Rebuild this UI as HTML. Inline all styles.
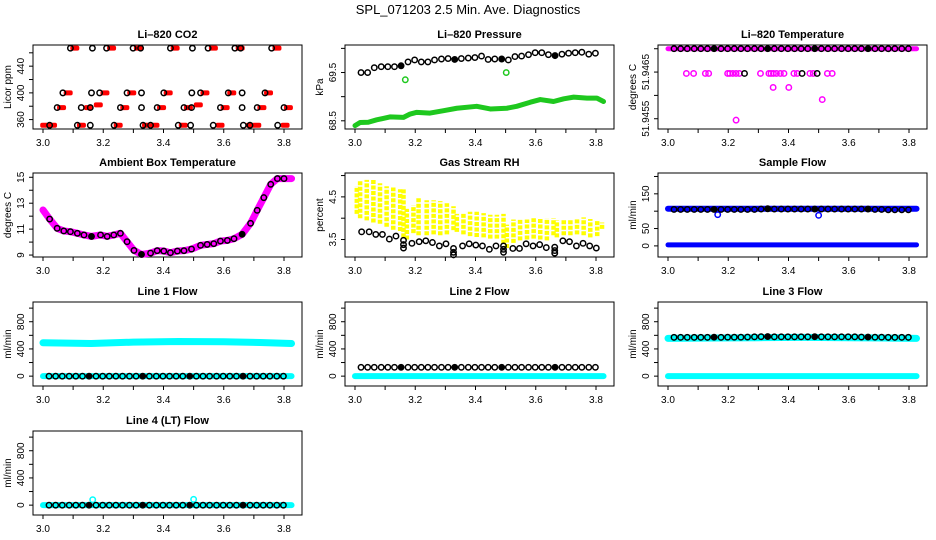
<!DOCTYPE html>
<html><head><meta charset="utf-8"><style>
html,body{margin:0;padding:0;background:#fff}
svg{display:block;font-family:"Liberation Sans",Arial,sans-serif}
</style></head><body>
<svg id="chart" width="936" height="540" viewBox="0 0 936 540" xmlns="http://www.w3.org/2000/svg">
<rect width="936" height="540" fill="#fff"/>
<text x="468" y="14" text-anchor="middle" font-size="13">SPL_071203  2.5 Min. Ave. Diagnostics</text>
</svg>
<script>
// ---------- data ----------
const xTicks = [3.0,3.1,3.2,3.3,3.4,3.5,3.6,3.7,3.8];
const xTickLabels = ["3.0","","3.2","","3.4","","3.6","","3.8"];
const BX = [3.020,3.042,3.064,3.087,3.109,3.131,3.153,3.176,3.198,3.220,3.242,3.264,3.287,3.309,3.331,3.353,3.376,3.398,3.420,3.442,3.464,3.487,3.509,3.531,3.553,3.576,3.598,3.620,3.642,3.664,3.687,3.709,3.731,3.753,3.776,3.798];
const filledIdx = [6,14,21,29];

// CO2
const co2RedX = [3.094,3.216,3.305,3.427,3.554,3.643,3.765, 3.072,3.194,3.283,3.404,3.526,3.615,3.737, 3.05,3.139,3.172,3.26,3.382,3.471,3.504,3.593,3.715,3.803, 2.994,3.02,3.116,3.238,3.332,3.36,3.454,3.576,3.676,3.698,3.792];
const co2RedY = [467,467,467,467,467,467,467, 400,400,400,400,400,400,400, 378,378,382,378,378,378,382,378,378,378, 351.5,351.5,351.5,351.5,351.5,351.5,351.5,351.5,351.5,351.5,351.5];
const co2BlackX = [3.091,3.164,3.211,3.299,3.324,3.423,3.496,3.548,3.637,3.656,3.759, 3.066,3.161,3.188,3.279,3.327,3.401,3.494,3.523,3.615,3.661,3.737, 3.047,3.127,3.157,3.257,3.327,3.379,3.468,3.493,3.589,3.661,3.711,3.8, 3.022,3.114,3.157,3.236,3.332,3.357,3.449,3.49,3.565,3.665,3.687,3.779];
const co2BlackY = [467,467,467,467,467,467,467,467,467,467,467, 400,400,400,400,400,400,400,400,400,400,400, 378,378,378,378,378,378,378,378,378,378,378,378, 351.5,351.5,351.5,351.5,351.5,351.5,351.5,351.5,351.5,351.5,351.5,351.5];

// Pressure
const presBlack = [69.5,69.5,69.6,69.62,69.62,69.62,69.64,69.72,69.76,69.72,69.72,69.76,69.78,69.79,69.77,69.79,69.8,69.81,69.84,69.77,69.78,69.78,69.76,69.83,69.84,69.87,69.91,69.91,69.87,69.85,69.88,69.9,69.91,69.92,69.88,69.9];
const presGreenX = [3.0,3.017,3.044,3.072,3.116,3.161,3.183,3.205,3.249,3.294,3.338,3.404,3.449,3.504,3.537,3.582,3.615,3.659,3.693,3.726,3.77,3.803,3.825];
const presGreenY = [68.4,68.465,68.47,68.52,68.58,68.57,68.64,68.675,68.66,68.71,68.76,68.8,68.745,68.76,68.8,68.885,68.94,68.9,68.955,68.99,68.97,68.97,68.9];
const presOutX = [3.167,3.502];
const presOutY = [69.35,69.5];

// Li-820 temperature
const ltMagX = [3.061,3.085,3.124,3.135,3.198,3.205,3.215,3.226,3.237,3.307,3.335,3.342,3.35,3.36,3.373,3.385,3.418,3.429,3.471,3.482,3.529,3.545];
const ltMagY = [51.94647,51.94647,51.94647,51.94647,51.94647,51.94647,51.94647,51.94647,51.94647,51.94647,51.94647,51.94647,51.94647,51.94647,51.94647,51.94647,51.94647,51.94647,51.94647,51.94647,51.94647,51.94647];
const ltLowX = [3.349,3.401,3.512,3.226];
const ltLowY = [51.94617,51.94617,51.94591,51.94547];
const ltBlackMidX = [3.254,3.445,3.495];

// Ambient temperature
const ambX = [3.022,3.047,3.069,3.091,3.114,3.136,3.161,3.191,3.213,3.235,3.257,3.279,3.302,3.327,3.357,3.379,3.401,3.423,3.446,3.468,3.493,3.523,3.545,3.567,3.589,3.612,3.634,3.661,3.689,3.711,3.733,3.756,3.778,3.8];
const ambY = [11.78,11.06,10.86,10.8,10.68,10.55,10.44,10.55,10.44,10.55,10.68,10.03,9.36,9.05,9.15,9.34,9.31,9.18,9.31,9.34,9.46,9.75,9.82,9.88,10.08,10.13,10.26,10.6,11.45,12.45,13.43,14.46,14.9,14.9];
const ambFilled = [6,13,27];

// Gas stream RH (yellow ranges)
const rhX  = [3.006,3.017,3.039,3.061,3.083,3.105,3.127,3.15,3.161, 3.172,3.194,3.211,3.238,3.261,3.283,3.305,3.327, 3.338,3.36,3.382,3.404,3.427,3.449,3.471,3.493, 3.504,3.526,3.548,3.571,3.593,3.615,3.637,3.659, 3.67,3.693,3.715,3.737,3.759,3.781,3.804,3.82];
const rhHi = [4.75,4.87,4.9,4.9,4.82,4.75,4.72,4.68,4.68, 4.22,4.3,4.5,4.42,4.42,4.4,4.35,4.28, 4.1,4.12,4.15,4.15,4.12,4.08,4.08,4.1, 3.85,3.97,3.97,3.97,4.0,4.0,4.0,4.0, 3.95,3.97,3.98,4.0,4.02,3.98,3.95,3.9];
const rhLo = [4.1,4.0,3.95,3.9,3.87,3.8,3.73,3.7,3.55, 3.5,3.65,3.6,3.6,3.62,3.6,3.62,3.72, 3.68,3.62,3.58,3.56,3.55,3.52,3.52,3.4, 3.3,3.42,3.48,3.5,3.52,3.5,3.48,3.6, 3.55,3.6,3.6,3.62,3.6,3.55,3.58,3.75];
const rhBlackX = [3.022,3.047,3.069,3.091,3.114,3.136,3.161,3.161,3.161,3.189,3.213,3.235,3.257,3.28,3.302,3.327,3.327,3.327,3.357,3.379,3.401,3.423,3.446,3.468,3.493,3.493,3.493,3.524,3.546,3.568,3.591,3.613,3.635,3.663,3.663,3.663,3.69,3.712,3.735,3.757,3.779,3.801];
const rhBlackY = [3.68,3.68,3.62,3.62,3.51,3.58,3.48,3.38,3.3,3.41,3.45,3.47,3.43,3.35,3.4,3.29,3.2,3.14,3.35,3.4,3.37,3.35,3.27,3.35,3.35,3.27,3.2,3.29,3.29,3.4,3.35,3.38,3.31,3.32,3.24,3.18,3.47,3.45,3.35,3.41,3.35,3.3];

// Flows
const sampleBlack = [105,105,105,105,105,105,105,105,105,105,105,105,105,106,107,106,106,106,106,106,106,106,106,106,106,106,106,106,106,106,105,105,104,104,104,104];
const sampleOutX = [3.165,3.5];
const sampleOutY = [90,88];
const line1Band = [490,480,500,510,505,495,480];
const bandX = [3.0,3.16,3.3,3.45,3.6,3.72,3.825];
const line1Black = [0,0,0,0,0,0,0,0,0,0,0,0,0,0,0,0,0,0,0,0,0,0,0,0,0,0,0,0,0,0,0,0,0,0,0,0];
const line2Black = [130,130,130,130,130,130,130,130,130,130,130,130,130,130,130,130,130,130,130,130,130,130,130,130,130,130,130,130,130,130,130,130,130,130,130,130];
const line3Band = [555,560,565,570,565,560,555];
const line3Black = [570,570,570,570,570,570,572,570,572,572,572,575,578,580,582,578,578,578,578,578,578,580,578,578,578,578,578,578,575,575,572,572,570,570,570,570];
const line4Black = [0,0,0,0,0,0,0,0,0,0,0,0,0,0,0,0,0,0,0,0,0,0,0,0,0,0,0,0,0,0,0,0,0,0,0,0];
const line4OutX = [3.165,3.5];
const line4OutY = [80,85];

// ---------- drawing ----------
const svg = document.getElementById('chart');
const NS = 'http://www.w3.org/2000/svg';
function mk(tag, attrs, parent){ const e=document.createElementNS(NS,tag); for(const k in attrs) e.setAttribute(k,attrs[k]); (parent||svg).appendChild(e); return e; }

const W = 269, H = 84;
function panel(name, title, L, T, ylo, yhi, yTicks, yLabels, ytitle){
  const g = mk('g',{});
  
  
  const xs = v => L + 10 + (v - 3.0) * 301.25;
  const ys = v => T + H - (v - ylo) / (yhi - ylo) * H;
  const box = mk('rect',{x:L,y:T,width:W,height:H,fill:'none',stroke:'#000','stroke-width':1},g);
  
  
  const t = mk('text',{x:L+W/2,y:T-7,'text-anchor':'middle','font-size':11,'font-weight':'bold'},g);
  t.textContent = title;
  
  
  const xa = mk('g',{},g);
  
  
  mk('line',{x1:xs(xTicks[0]),x2:xs(xTicks[xTicks.length-1]),y1:T+H,y2:T+H,stroke:'#000'},xa);
  xTicks.forEach((v,i)=>{
    mk('line',{x1:xs(v),x2:xs(v),y1:T+H,y2:T+H+4,stroke:'#000'},xa);
    if(xTickLabels[i]){ const tx=mk('text',{x:xs(v),y:T+H+17,'text-anchor':'middle','font-size':10},xa); tx.textContent=xTickLabels[i];
      
       }
  });
  const ya = mk('g',{},g);
  
  
  mk('line',{x1:L,x2:L,y1:ys(yTicks[0]),y2:ys(yTicks[yTicks.length-1]),stroke:'#000'},ya);
  yTicks.forEach((v,i)=>{
    mk('line',{x1:L-4,x2:L,y1:ys(v),y2:ys(v),stroke:'#000'},ya);
    if(yLabels[i]){ const ty=mk('text',{x:L-9,y:ys(v),'text-anchor':'middle','font-size':10,transform:`rotate(-90 ${L-9} ${ys(v)})`},ya); ty.textContent=yLabels[i];
      
       }
  });
  const yt = mk('text',{x:L-22,y:T+H/2,'text-anchor':'middle','font-size':10,transform:`rotate(-90 ${L-22} ${T+H/2})`},g);
  yt.textContent = ytitle;
  
  
  const clip = mk('g',{},g);
  return {g:clip, xs, ys};
}
function circ(p, x, y, col, filled, name){
  const c = mk('circle',{cx:p.xs(x),cy:p.ys(y),r:2.7,fill:filled?col:'none',stroke:col,'stroke-width':1.5},p.g);
  
  
}
function band(p, xArr, yArr, col, w, name){
  const pts = xArr.map((x,i)=>p.xs(x)+','+p.ys(yArr[i])).join(' ');
  const l = mk('polyline',{points:pts,fill:'none',stroke:col,'stroke-width':w,'stroke-linejoin':'round','stroke-linecap':'round'},p.g);
  
  
}
const fillSet = new Set(filledIdx);

// Row 1
let p = panel('co2-panel','Li\u2013820 CO2',33,45,345.9,471.7,[360,380,400,420,440,460],['360','','400','','440',''],'Licor ppm');
co2RedX.forEach((x,i)=>{ const r=mk('rect',{x:p.xs(x)-1,y:p.ys(co2RedY[i])-2.5,width:9,height:5,rx:2,fill:'#f00'},p.g);
  
   });
co2BlackX.forEach((x,i)=>circ(p,x,co2BlackY[i],'#000',false,'co2-point'));

p = panel('pressure-panel','Li\u2013820 Pressure',345,45,68.33,70.07,[68.5,69.0,69.5,70.0],['68.5','','69.5',''],'kPa');
band(p,presGreenX,presGreenY,'#1ec81e',5,'pressure-green-series');
presOutX.forEach((x,i)=>circ(p,x,presOutY[i],'#1ec81e',false,'pressure-green-outlier'));
BX.forEach((x,i)=>circ(p,x,presBlack[i],'#000',fillSet.has(i),'pressure-point'));

p = panel('li-temp-panel','Li\u2013820 Temperature',658,45,51.94528,51.94708,[51.9455,51.946,51.9465,51.947],['51.9455','','51.9465',''],'degrees C');
band(p,[3.0,3.825],[51.947,51.947],'#ff00ff',5,'li-temp-magenta-series');
ltMagX.forEach((x,i)=>circ(p,x,ltMagY[i],'#ff00ff',false,'li-temp-magenta-point'));
ltLowX.forEach((x,i)=>circ(p,x,ltLowY[i],'#ff00ff',false,'li-temp-magenta-point'));
ltBlackMidX.forEach(x=>circ(p,x,51.94647,'#000',false,'li-temp-point'));
BX.forEach((x,i)=>circ(p,x,51.947,'#000',fillSet.has(i),'li-temp-point'));

// Row 2
p = panel('ambient-temp-panel','Ambient Box Temperature',33,173,8.85,15.33,[9,10,11,12,13,14,15],['9','','11','','13','','15'],'degrees C');
band(p,[3.0].concat(ambX,[3.825]),[12.48].concat(ambY,[14.9]),'#ff00ff',7,'ambient-magenta-series');
ambX.forEach((x,i)=>circ(p,x,ambY[i],'#000',ambFilled.includes(i),'ambient-point'));

p = panel('rh-panel','Gas Stream RH',345,173,3.09,5.06,[3.5,4.0,4.5,5.0],['3.5','','4.5',''],'percent');
rhX.forEach((x,i)=>{ const l=mk('line',{x1:p.xs(x),x2:p.xs(x),y1:p.ys(rhLo[i]),y2:p.ys(rhHi[i]),stroke:'#ffff00','stroke-width':4.5,'stroke-dasharray':'4 1.5'},p.g);
  
   });
rhBlackX.forEach((x,i)=>circ(p,x,rhBlackY[i],'#000',false,'rh-point'));

p = panel('sample-flow-panel','Sample Flow',658,173,-32,210,[0,50,100,150,200],['0','50','','150',''],'ml/min');
band(p,[3.0,3.825],[107,107],'#0000ff',6,'sample-flow-upper-series');
band(p,[3.0,3.825],[3,3],'#0000ff',5,'sample-flow-lower-series');
sampleOutX.forEach((x,i)=>circ(p,x,sampleOutY[i],'#0000ff',false,'sample-flow-outlier'));
BX.forEach((x,i)=>circ(p,x,sampleBlack[i],'#000',fillSet.has(i),'sample-flow-point'));

// Row 3
const fT=[0,200,400,600,800,1000], fL=['0','','400','','800',''];
p = panel('line1-flow-panel','Line 1 Flow',33,302,-145,1090,fT,fL,'ml/min');
band(p,bandX,line1Band,'#00ffff',7,'line1-upper-series');
band(p,[3.0,3.825],[0,0],'#00ffff',6,'line1-lower-series');
BX.forEach((x,i)=>circ(p,x,line1Black[i],'#000',fillSet.has(i),'line1-point'));

p = panel('line2-flow-panel','Line 2 Flow',345,302,-145,1090,fT,fL,'ml/min');
band(p,[3.0,3.825],[0,0],'#00ffff',6,'line2-series');
BX.forEach((x,i)=>circ(p,x,line2Black[i],'#000',fillSet.has(i),'line2-point'));

p = panel('line3-flow-panel','Line 3 Flow',658,302,-145,1090,fT,fL,'ml/min');
band(p,bandX,line3Band,'#00ffff',7,'line3-upper-series');
band(p,[3.0,3.825],[0,0],'#00ffff',6,'line3-lower-series');
BX.forEach((x,i)=>circ(p,x,line3Black[i],'#000',fillSet.has(i),'line3-point'));

// Row 4
p = panel('line4-flow-panel','Line 4 (LT) Flow',33,431,-145,1090,fT,fL,'ml/min');
band(p,[3.0,3.825],[0,0],'#00ffff',6,'line4-series');
line4OutX.forEach((x,i)=>circ(p,x,line4OutY[i],'#00ffff',false,'line4-outlier'));
BX.forEach((x,i)=>circ(p,x,line4Black[i],'#000',fillSet.has(i),'line4-point'));
</script>
</body></html>
